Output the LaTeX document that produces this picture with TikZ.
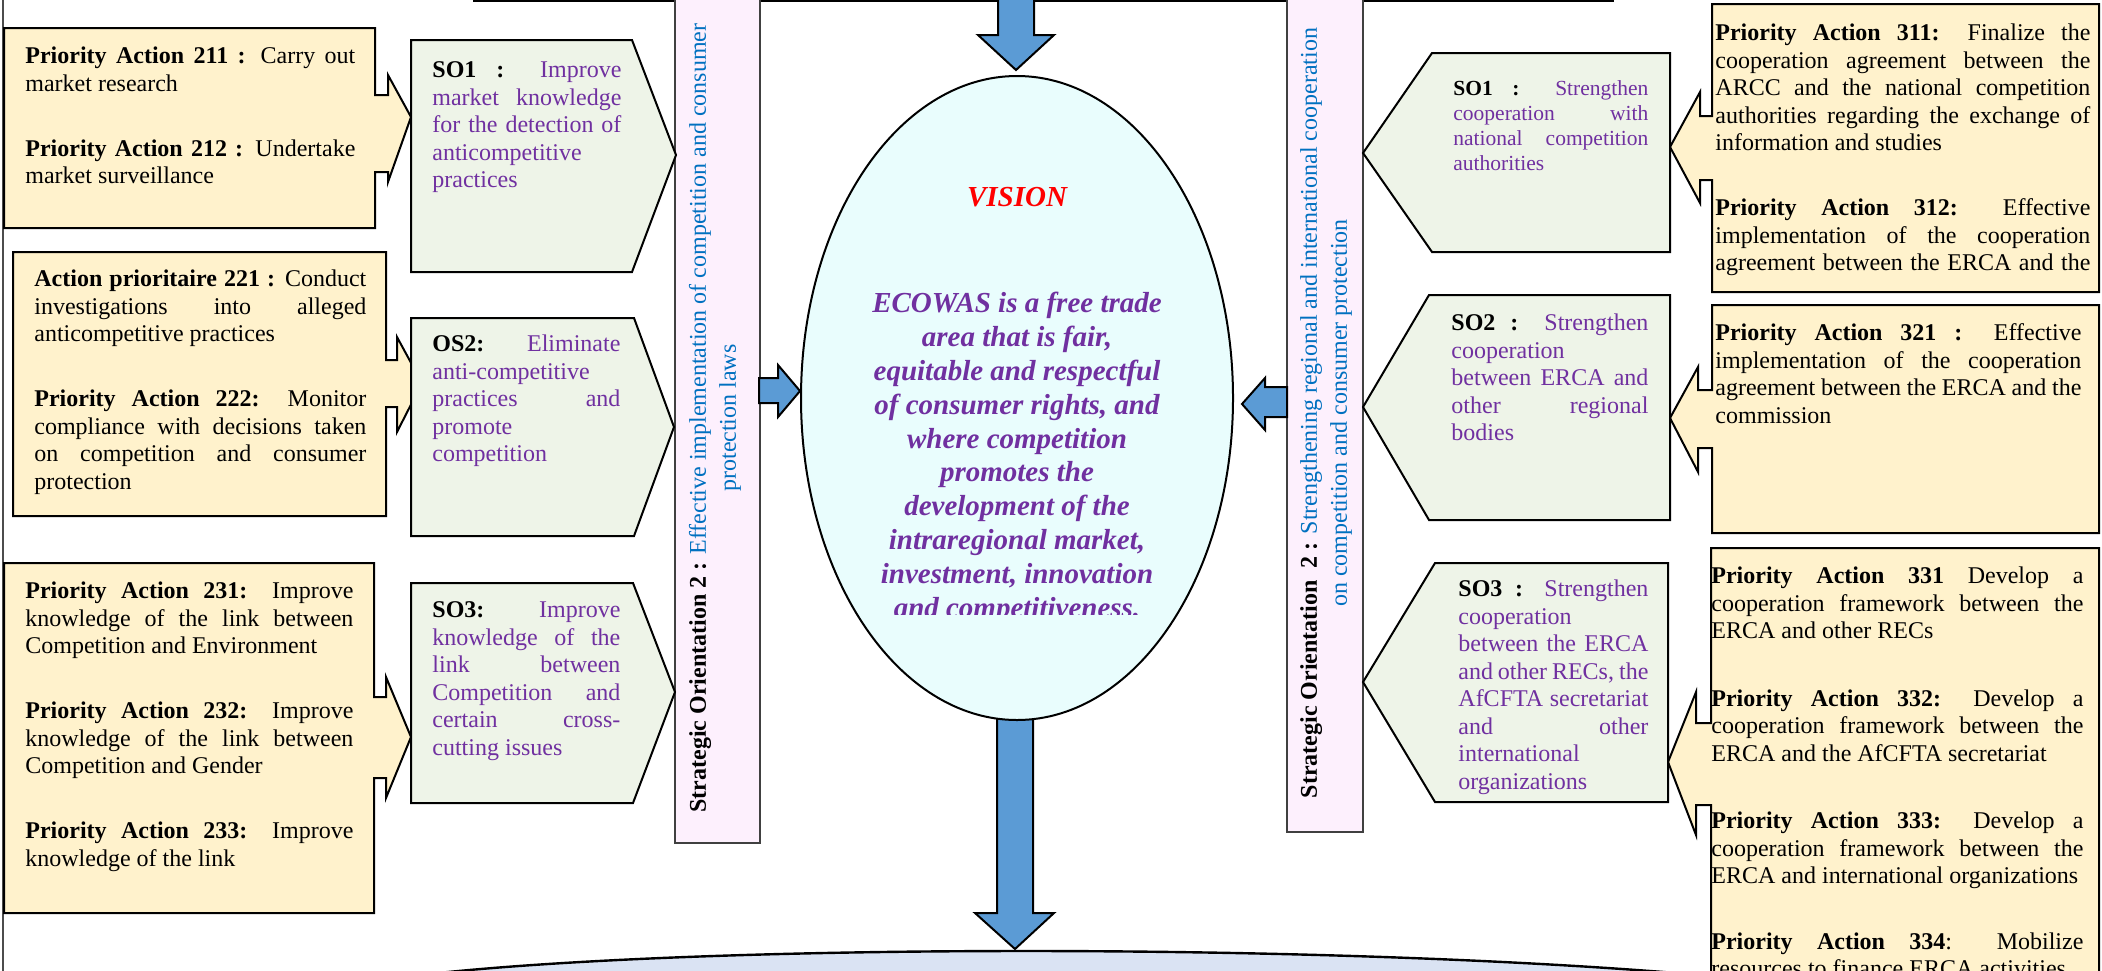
\documentclass[tikz,border=0pt]{standalone}
\usepackage{fontspec}
\setmainfont{Liberation Serif}
\definecolor{cream}{HTML}{FFF2CC}
\definecolor{sogreen}{HTML}{EEF4E8}
\definecolor{barpink}{HTML}{FDF0FD}
\definecolor{ellcyan}{HTML}{E9FDFD}
\definecolor{arrowblue}{HTML}{5B9BD5}
\definecolor{bottomblue}{HTML}{DAE3F3}
\definecolor{sopurple}{HTML}{7030A0}
\definecolor{barblue}{HTML}{0070C0}
\newcommand\bodyfont{\fontsize{12pt}{13.75pt}\selectfont}
\newcommand\pgap{\par\vspace{18.75pt}}
\newcommand\lb{\linebreak}
\tolerance=10000 \hbadness=10000 \hyphenpenalty=10000
\tikzset{
  x=0.5pt, y=-0.5pt,
  cbox/.style={draw=black, line width=1pt, fill=cream, line join=miter},
  sobox/.style={draw=black, line width=1pt, fill=sogreen, line join=miter},
  barbox/.style={draw=black!75, line width=0.6pt, fill=barpink},
  blk/.style={draw=black, line width=1pt, fill=arrowblue, line join=miter},
  txt/.style={anchor=north west, inner sep=0pt, align=justify, font=\bodyfont},
  sotxt/.style={txt, text=sopurple},
  bartxt/.style={rotate=90, inner sep=0pt, align=center, font=\fontsize{12pt}{15pt}\selectfont},
}
\begin{document}
\begin{tikzpicture}
\useasboundingbox (0,0) rectangle (2102,970);
% frame lines
\draw[black!70, line width=0.6pt] (3,-5) -- (3,975);
\draw[black, line width=1pt] (473,1) -- (1614,1);
% bottom shape
\fill[bottomblue] (420,975) .. controls (700,943) and (1330,943) .. (1700,975) -- (1700,990) -- (420,990) -- cycle;
\draw[black, line width=1.2pt] (420,975) .. controls (700,943) and (1330,943) .. (1700,975);
% vertical bars
\draw[barbox] (675,-5) rectangle (760,843);
\draw[barbox] (1287,-5) rectangle (1363,832);
% block arrows
\draw[blk] (998,-5) -- (1034,-5) -- (1034,35) -- (1054,35) -- (1016,70) -- (978,35) -- (998,35) -- cycle;
\draw[blk] (997,715) -- (1033,715) -- (1033,913) -- (1054,913) -- (1015,949) -- (975,913) -- (997,913) -- cycle;
\draw[blk] (759,378) -- (778,378) -- (778,365) -- (800,391) -- (778,417) -- (778,403) -- (759,403) -- cycle;
\draw[blk] (1287,387) -- (1265,387) -- (1265,378) -- (1242,404) -- (1265,430) -- (1265,417) -- (1287,417) -- cycle;
% ellipse
\draw[black, line width=1pt, fill=ellcyan] (1017,398) ellipse [x radius=216, y radius=322];
% left callouts
\draw[cbox] (4,28) -- (375,28) -- (375,95) -- (388,95) -- (388,75) -- (411,117) -- (388,182) -- (388,172) -- (375,172) -- (375,228) -- (4,228) -- cycle;
\draw[cbox] (13,252) -- (386,252) -- (386,360) -- (397,360) -- (397,337) -- (422,383) -- (397,432) -- (397,407) -- (386,407) -- (386,516) -- (13,516) -- cycle;
\draw[cbox] (4,563) -- (374,563) -- (374,697) -- (386,697) -- (386,677) -- (411,737) -- (386,798) -- (386,778) -- (374,778) -- (374,913) -- (4,913) -- cycle;
% right callouts
\draw[cbox] (2099,4) -- (1712,4) -- (1712,116) -- (1700,116) -- (1700,92) -- (1670,147) -- (1700,203) -- (1700,180) -- (1712,180) -- (1712,292) -- (2099,292) -- cycle;
\draw[cbox] (2099,305) -- (1712,305) -- (1712,390) -- (1698,390) -- (1698,367) -- (1670,418) -- (1698,472) -- (1698,448) -- (1712,448) -- (1712,533) -- (2099,533) -- cycle;
\draw[cbox] (2099,548) -- (1711,548) -- (1711,723) -- (1696,723) -- (1696,692) -- (1668,762) -- (1696,835) -- (1696,805) -- (1711,805) -- (1711,990) -- (2099,990) -- cycle;
% SO boxes left
\draw[sobox] (411,40) -- (632,40) -- (676,155) -- (632,272) -- (411,272) -- cycle;
\draw[sobox] (411,318) -- (634,318) -- (674,427) -- (634,536) -- (411,536) -- cycle;
\draw[sobox] (411,583) -- (633,583) -- (675,692) -- (633,803) -- (411,803) -- cycle;
% SO boxes right
\draw[sobox] (1363,153) -- (1432,53) -- (1670,53) -- (1670,252) -- (1432,252) -- cycle;
\draw[sobox] (1363,407) -- (1429,295) -- (1670,295) -- (1670,520) -- (1429,520) -- cycle;
\draw[sobox] (1363,682) -- (1435,563) -- (1668,563) -- (1668,802) -- (1435,802) -- cycle;

% texts left callouts
\node[txt, text width=165pt] (pa21) at (25,46.5) {\textbf{Priority Action 211 :} Carry out\lb market research\pgap\textbf{Priority Action 212 :} Undertake\lb market surveillance};
\node[txt, text width=166pt] (pa22) at (34,269.5) {\textbf{Action prioritaire 221 :} Conduct\lb investigations into alleged\lb anticompetitive practices\pgap\textbf{Priority Action 222:} Monitor\lb compliance with decisions taken\lb on competition and consumer\lb protection};
\node[txt, text width=164pt] (pa23) at (25,581.5) {\textbf{Priority Action 231:} Improve\lb knowledge of the link between\lb Competition and Environment\pgap\textbf{Priority Action 232:} Improve\lb knowledge of the link between\lb Competition and Gender\pgap\textbf{Priority Action 233:} Improve\lb knowledge of the link};
% texts right callouts
\node[txt, text width=187.5pt] (pa31) at (1715,23.5) {\textbf{Priority Action 311:} Finalize the\lb cooperation agreement between the\lb ARCC and the national competition\lb authorities regarding the exchange of\lb information and studies\pgap\textbf{Priority Action 312:} Effective\lb implementation of the cooperation\lb agreement between the ERCA and the\lb};
\node[txt, text width=183pt] (pa32) at (1715,323.5) {\textbf{Priority Action 321 :} Effective\lb implementation of the cooperation\lb agreement between the ERCA and the\lb commission};
\node[txt, text width=186pt] (pa33) at (1711,566.5) {\textbf{Priority Action 331} Develop a\lb cooperation framework between the\lb ERCA and other RECs\par\vspace{20pt}\textbf{Priority Action 332:} Develop a\lb cooperation framework between the\lb ERCA and the AfCFTA secretariat\par\vspace{20pt}\textbf{Priority Action 333:} Develop a\lb cooperation framework between the\lb ERCA and international organizations\par\vspace{19pt}\textbf{Priority Action 334}: Mobilize\lb resources to finance ERCA activities};
% SO texts left
\node[sotxt, text width=94.5pt] (so1l) at (432,61.5) {\textcolor{black}{\textbf{SO1 :}} Improve\lb market knowledge\lb for the detection of\lb anticompetitive\lb practices};
\node[sotxt, text width=94pt] (so2l) at (432,334.5) {\textcolor{black}{\textbf{OS2:}} Eliminate\lb anti-competitive\lb practices and\lb promote\lb competition};
\node[sotxt, text width=94pt] (so3l) at (432,601.5) {\textcolor{black}{\textbf{SO3:}} Improve\lb knowledge of the\lb link between\lb Competition and\lb certain cross-\lb cutting issues};
% SO texts right
\node[sotxt, text width=97.5pt, font=\fontsize{10.75pt}{12.5pt}\selectfont] (so1r) at (1453,80.5) {\textcolor{black}{\textbf{SO1 :}} Strengthen\lb cooperation with\lb national competition\lb authorities};
\node[sotxt, text width=98.5pt] (so2r) at (1451,313.5) {\textcolor{black}{\textbf{SO2 :}} Strengthen\lb cooperation\lb between ERCA and\lb other regional\lb bodies};
\begin{scope}
\clip (1363,682) -- (1435,563) -- (1668,563) -- (1668,800) -- (1435,800) -- cycle;
\node[sotxt, text width=95pt] (so3r) at (1458,579.5) {\textcolor{black}{\textbf{SO3 :}} Strengthen\lb cooperation\lb between the ERCA\lb and other RECs, the\lb AfCFTA secretariat\lb and other\lb international\lb organizations};
\end{scope}
% bar texts
\node[bartxt] (bar2) at (715,418) {\textbf{Strategic Orientation 2 :} \textcolor{barblue}{Effective implementation of competition and consumer}\\\textcolor{barblue}{protection laws}};
\node[bartxt] (bar3) at (1326,413) {\textbf{Strategic Orientation\ \ 2 :} \textcolor{barblue}{Strengthening regional and international cooperation}\\\textcolor{barblue}{on competition and consumer protection}};
% vision
\node[inner sep=0pt, text=red, font=\fontsize{14.5pt}{16.9pt}\selectfont\bfseries\itshape] (vis) at (1017,197) {VISION};
\begin{scope}
\clip (700,0) rectangle (1340,614);
\node[anchor=north, inner sep=0pt, align=center, text=sopurple, font=\fontsize{14.5pt}{16.9pt}\selectfont\bfseries\itshape] (vistxt) at (1017,292) {ECOWAS is a free trade\\area that is fair,\\equitable and respectful\\of consumer rights, and\\where competition\\promotes the\\development of the\\intraregional market,\\investment, innovation\\and competitiveness.};
\end{scope}
\end{tikzpicture}
\end{document}
